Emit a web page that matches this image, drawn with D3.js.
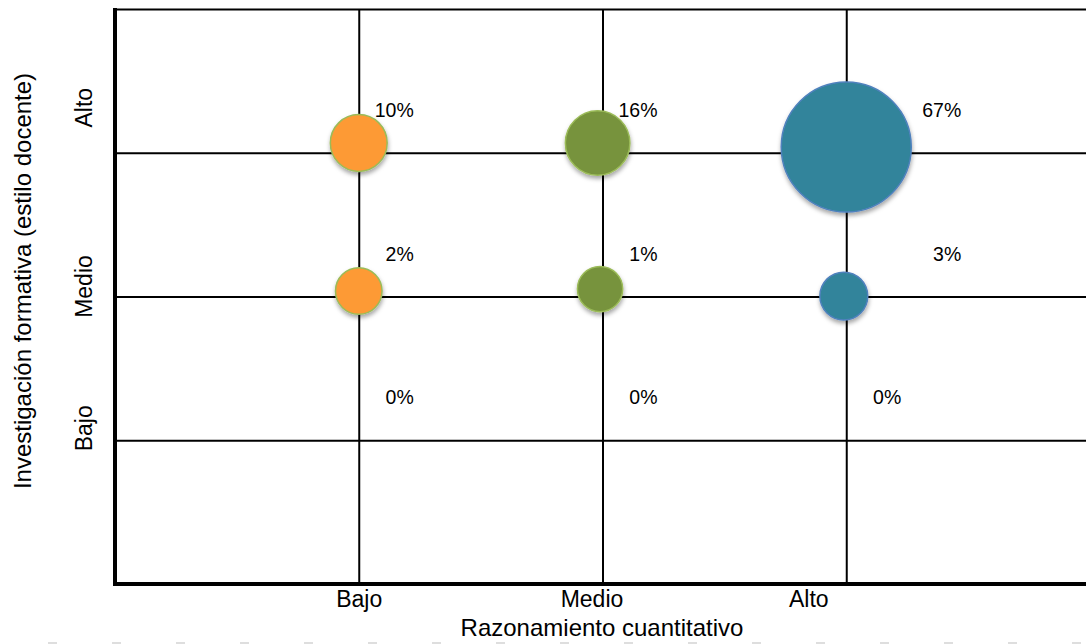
<!DOCTYPE html>
<html>
<head>
<meta charset="utf-8">
<script src="https://cdn.jsdelivr.net/npm/d3@7"></script>
<style>
  html, body { margin: 0; padding: 0; background: #fff; }
  svg { display: block; font-family: "Liberation Sans", Arial, Helvetica, sans-serif; }
</style>
</head>
<body>
<svg id="chart" width="1086" height="644"></svg>
<script>
// Levels shown on both axes
const xLevels = ["Bajo", "Medio", "Alto"];
const yLevels = ["Bajo", "Medio", "Alto"];
const xTitle = "Razonamiento cuantitativo";
const yTitle = "Investigación formativa (estilo docente)";

// One series per level of "Razonamiento cuantitativo"
const seriesNames = ["Bajo", "Medio", "Alto"];
const seriesColors = ["#FD9A34", "#77933C", "#31849B"];
const seriesStroke = ["#9BBB59", "#9BBB59", "#4F81BD"];

// Points: x level, y level, share of students (%), series index
const pointX = [1.0, 1.0, 1.0, 1.98, 1.99, 2.0, 3.0, 2.99, 3.0];
const pointY = [3.068, 2.038, 1.0, 3.068, 2.052, 1.0, 3.04, 2.003, 1.0];
const pointPct = [10, 2, 0, 16, 1, 0, 67, 3, 0];
const pointSeries = [0, 0, 0, 1, 1, 1, 2, 2, 2];

const points = pointPct.map((p, i) => ({
  x: pointX[i], y: pointY[i], pct: p, s: pointSeries[i],
  col: Math.round(pointX[i]), row: Math.round(pointY[i])
}));

const svg = d3.select("#chart");

const x = d3.scaleLinear().domain([0, 4]).range([115, 1090]);
const y = d3.scaleLinear().domain([0, 4]).range([584, 9]);
const r = d3.scaleLinear().domain([0, 67]).range([22, 65]);

// Soft shadow under the bubbles
const defs = svg.append("defs");
const f = defs.append("filter").attr("id", "shadow")
  .attr("x", "-30%").attr("y", "-30%").attr("width", "160%").attr("height", "160%");
f.append("feDropShadow").attr("dx", 0.5).attr("dy", 3).attr("stdDeviation", 2.2)
  .attr("flood-color", "#000").attr("flood-opacity", 0.35);

// Horizontal grid (including the top edge)
const gy = svg.append("g").attr("transform", `translate(${x(0)},0)`)
  .call(d3.axisRight(y).tickValues([1, 2, 3, 4]).tickSize(x(4) - x(0)).tickFormat(""));
gy.select(".domain").remove();
gy.selectAll(".tick line").attr("stroke", "#000").attr("stroke-width", 2);

// Vertical grid
const gx = svg.append("g").attr("transform", `translate(0,${y(0)})`)
  .call(d3.axisTop(x).tickValues([1, 2, 3]).tickSize(y(0) - y(4)).tickFormat(""));
gx.select(".domain").remove();
gx.selectAll(".tick line").attr("stroke", "#000").attr("stroke-width", 2);

// Axis lines
svg.append("line").attr("x1", x(0)).attr("x2", x(0)).attr("y1", y(4) - 1).attr("y2", y(0) + 2)
  .attr("stroke", "#000").attr("stroke-width", 4);
svg.append("line").attr("x1", x(0) - 2).attr("x2", x(4)).attr("y1", y(0)).attr("y2", y(0))
  .attr("stroke", "#000").attr("stroke-width", 4);

// Tick labels (nudged the way the source layout places them)
const xTickNudge = [0, -11, -38];
const xAxis = svg.append("g").attr("transform", `translate(0,${y(0)})`)
  .call(d3.axisBottom(x).tickValues([1, 2, 3]).tickSize(0).tickFormat((d, i) => xLevels[i]));
xAxis.select(".domain").remove();
xAxis.selectAll(".tick text")
  .attr("font-family", "'Liberation Sans', Arial, sans-serif")
  .attr("font-size", 23).attr("fill", "#000")
  .attr("dy", null).attr("y", 23)
  .attr("x", (d, i) => xTickNudge[i]);

const yTickNudge = [-12, -10, -45];
svg.append("g").selectAll("text").data([1, 2, 3]).join("text")
  .attr("transform", (d, i) => `translate(92,${y(d) + yTickNudge[i]}) rotate(-90)`)
  .attr("text-anchor", "middle")
  .attr("font-size", 23).attr("fill", "#000")
  .text((d, i) => yLevels[i]);

// Axis titles
svg.append("text").attr("x", 602).attr("y", 636).attr("text-anchor", "middle")
  .attr("font-size", 24).attr("fill", "#000").text(xTitle);
svg.append("text").attr("transform", "translate(31,281) rotate(-90)")
  .attr("text-anchor", "middle").attr("font-size", 24).attr("fill", "#000").text(yTitle);

// Bubbles
svg.append("g").selectAll("circle").data(points.filter(d => d.pct > 0)).join("circle")
  .attr("cx", d => x(d.x)).attr("cy", d => y(d.y)).attr("r", d => r(d.pct))
  .attr("fill", d => seriesColors[d.s])
  .attr("stroke", d => seriesStroke[d.s]).attr("stroke-width", 1.5)
  .attr("filter", "url(#shadow)");

// Value labels, set above-right of each grid crossing
const labelDx = [55, 55, 55, 55, 55, 55, 115, 115, 55];
svg.append("g").selectAll("text").data(points).join("text")
  .attr("x", (d, i) => x(d.col) + labelDx[i])
  .attr("y", d => y(d.row) - 36)
  .attr("text-anchor", "end")
  .attr("font-size", 19.5).attr("fill", "#000")
  .text(d => d.pct + "%");

// Faint dashed rule along the bottom edge
svg.append("line").attr("x1", 48).attr("x2", 1086).attr("y1", 643).attr("y2", 643)
  .attr("stroke", "#d4d4d4").attr("stroke-width", 1.5).attr("stroke-dasharray", "9,55");
</script>
</body>
</html>
